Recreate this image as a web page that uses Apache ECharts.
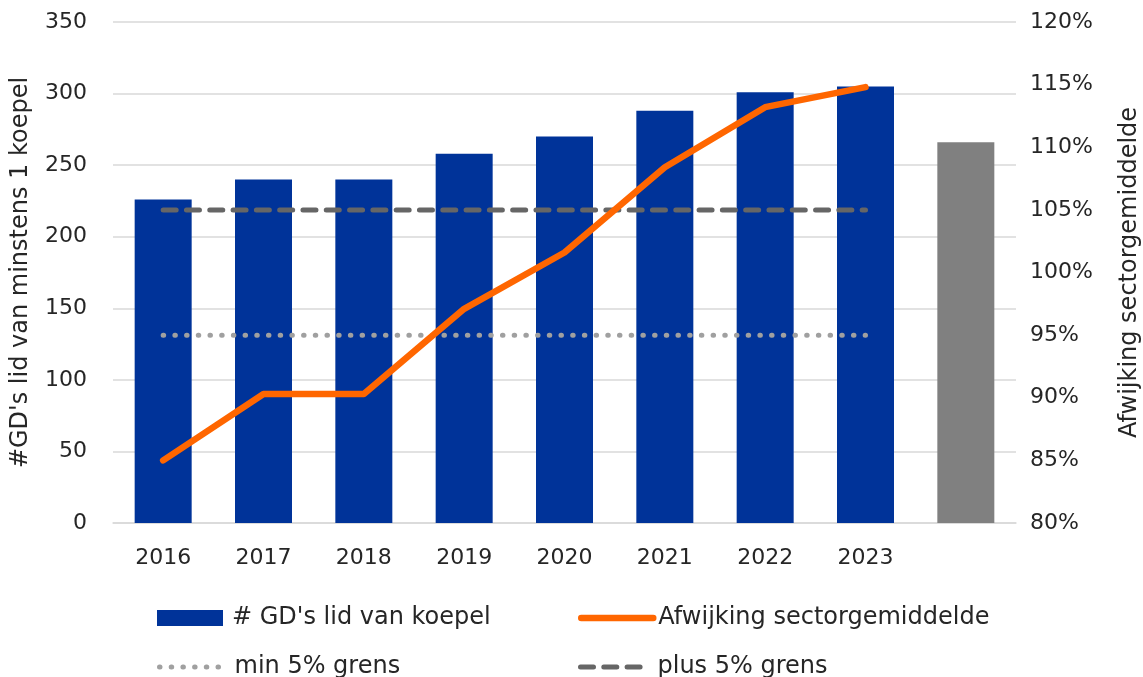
<!DOCTYPE html>
<html><head><meta charset="utf-8">
<script src="https://cdn.jsdelivr.net/npm/echarts@6/dist/echarts.min.js"></script>
<style>html,body{margin:0;padding:0;background:#fff}#c{width:1143px;height:677px}</style>
</head><body><div id="c"></div>
<script>
// ---- data ----
const categories = ['2016','2017','2018','2019','2020','2021','2022','2023',''];
const members    = [226, 240, 240, 258, 270, 288, 301, 305, 266];
const deviation  = [85.0, 90.3, 90.3, 97.1, 101.6, 108.4, 113.2, 114.8, null];
const minLimit   = [95, 95, 95, 95, 95, 95, 95, 95, null];
const plusLimit  = [105, 105, 105, 105, 105, 105, 105, 105, null];
const leftAxisRange  = {min: 0, max: 350, step: 50};
const rightAxisRange = {min: 80, max: 120, step: 5};
const seriesNames = ["# GD's lid van koepel", 'Afwijking sectorgemiddelde', 'min 5% grens', 'plus 5% grens'];
const leftAxisName = "#GD's lid van minstens 1 koepel";
const rightAxisName = 'Afwijking sectorgemiddelde';

// ---- chart ----
const FONT = 'DejaVu Sans';
const TXT = '#262626';
const BLUE = '#003399', GREY_BAR = '#808080', ORANGE = '#FF6600', DOT = '#a0a0a0', DASH = '#666666';
const barColors = members.map((v, i) => i === members.length - 1 ? GREY_BAR : BLUE);

const chart = echarts.init(document.getElementById('c'), null, {renderer: 'canvas'});
function legend(name, left, top, w, textPad, extra) {
  return Object.assign({
    data: [name], left: left, top: top,
    itemWidth: w, itemHeight: 16, itemGap: 0, padding: 0, selectedMode: false,
    textStyle: {fontFamily: FONT, fontSize: 24, color: TXT, padding: [0, 0, 0, textPad]}
  }, extra || {});
}
chart.setOption({
  animation: false,
  textStyle: {fontFamily: FONT},
  grid: {left: 113, right: 127, top: 22, bottom: 154, containLabel: false, outerBoundsMode: 'none'},
  legend: [
    legend({name: seriesNames[0], icon: 'rect'}, 157, 606, 66, 4),
    legend(seriesNames[1], 578, 606, 72, 0, {itemStyle: {opacity: 0}, lineStyle: {width: 6.5}}),
    legend(seriesNames[2], 157, 655, 64, 6, {itemStyle: {opacity: 0}, lineStyle: {width: 5}}),
    legend(seriesNames[3], 578, 655, 66, 6, {itemStyle: {opacity: 0}, lineStyle: {width: 5}})
  ],
  xAxis: {
    type: 'category', data: categories,
    axisLine: {lineStyle: {color: '#d9d9d9', width: 1.5}},
    axisTick: {show: false},
    axisLabel: {color: TXT, fontSize: 22, fontFamily: FONT, margin: 24}
  },
  yAxis: [
    {
      type: 'value', min: leftAxisRange.min, max: leftAxisRange.max, interval: leftAxisRange.step,
      name: leftAxisName, nameLocation: 'middle', nameGap: 80, nameRotate: 90,
      nameTextStyle: {color: TXT, fontSize: 24, fontFamily: FONT},
      axisLine: {show: false}, axisTick: {show: false},
      axisLabel: {color: TXT, fontSize: 22, fontFamily: FONT, margin: 26},
      splitLine: {lineStyle: {color: '#d9d9d9', width: 1.5}}
    },
    {
      type: 'value', min: rightAxisRange.min, max: rightAxisRange.max, interval: rightAxisRange.step,
      name: rightAxisName, nameLocation: 'middle', nameGap: 102, nameRotate: 90,
      nameTextStyle: {color: TXT, fontSize: 24, fontFamily: FONT},
      axisLine: {show: false}, axisTick: {show: false},
      axisLabel: {color: TXT, fontSize: 22, fontFamily: FONT, margin: 14, formatter: v => v + '%'},
      splitLine: {show: false}
    }
  ],
  series: [
    {
      name: seriesNames[0], type: 'bar', yAxisIndex: 0, barWidth: 57,
      itemStyle: {color: BLUE},
      data: members.map((v, i) => ({value: v, itemStyle: {color: barColors[i]}}))
    },
    {
      name: seriesNames[1], type: 'line', yAxisIndex: 1, symbol: 'none', z: 5,
      itemStyle: {color: ORANGE},
      lineStyle: {color: ORANGE, width: 6.5, cap: 'round', join: 'round'},
      data: deviation
    },
    {
      name: seriesNames[2], type: 'line', yAxisIndex: 1, symbol: 'none', z: 3,
      itemStyle: {color: DOT},
      lineStyle: {color: DOT, width: 5, type: [0.5, 11.2], cap: 'round'},
      data: minLimit
    },
    {
      name: seriesNames[3], type: 'line', yAxisIndex: 1, symbol: 'none', z: 4,
      itemStyle: {color: DASH},
      lineStyle: {color: DASH, width: 5, type: [13, 10.3], cap: 'round'},
      data: plusLimit
    }
  ]
});
</script></body></html>
